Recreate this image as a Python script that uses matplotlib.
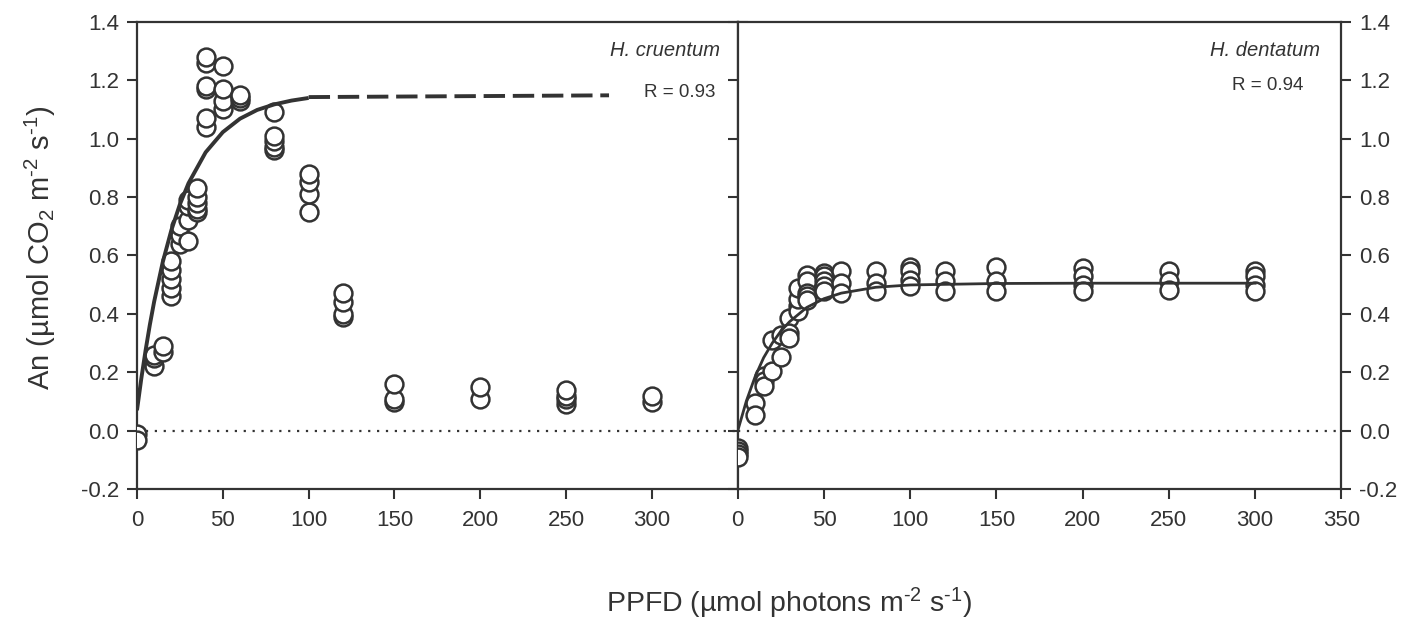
import matplotlib
matplotlib.use("Agg")
import matplotlib.pyplot as plt

plt.rcParams['font.family'] = ['Liberation Sans', 'DejaVu Sans']
plt.rcParams['mathtext.fontset'] = 'custom'
plt.rcParams['mathtext.rm'] = 'Liberation Sans'
plt.rcParams['mathtext.it'] = 'Liberation Sans:italic'

ink = '#333333'

# H. cruentum measurements
hc_x = [0, 0, 10, 10, 10, 15, 15, 20, 20, 20, 20, 20, 25, 25, 25, 30, 30, 30, 30,
        35, 35, 35, 35, 35, 40, 40, 40, 40, 40, 40, 50, 50, 50, 50, 60, 60, 60,
        80, 80, 80, 80, 80, 100, 100, 100, 100, 120, 120, 120, 120,
        150, 150, 150, 200, 200, 250, 250, 250, 250, 300, 300]
hc_y = [-0.01, -0.03, 0.22, 0.25, 0.26, 0.27, 0.29, 0.46, 0.49, 0.52, 0.55, 0.58,
        0.64, 0.67, 0.70, 0.65, 0.72, 0.77, 0.79,
        0.75, 0.76, 0.78, 0.80, 0.83, 1.04, 1.07, 1.17, 1.18, 1.26, 1.28,
        1.10, 1.13, 1.17, 1.25, 1.13, 1.14, 1.15,
        0.96, 0.97, 0.99, 1.01, 1.09, 0.75, 0.81, 0.85, 0.88, 0.39, 0.40, 0.44, 0.47,
        0.10, 0.11, 0.16, 0.11, 0.15, 0.09, 0.11, 0.12, 0.14, 0.10, 0.12]
# fitted curve
hc_fit_x = [0, 2.5, 5, 7.5, 10, 15, 20, 25, 30, 40, 50, 60, 70, 80, 90, 100]
hc_fit_y = [0.07, 0.178, 0.275, 0.363, 0.442, 0.577, 0.686, 0.775, 0.847, 0.953,
            1.022, 1.068, 1.098, 1.117, 1.130, 1.139]
hc_ext_x = [100, 275]
hc_ext_y = [1.142, 1.148]

# H. dentatum measurements
hd_x = [0, 0, 0, 0, 10, 10, 15, 15, 15, 20, 20, 25, 25, 30, 30, 30,
        35, 35, 35, 35, 40, 40, 40, 40, 40, 50, 50, 50, 50, 50, 60, 60, 60,
        80, 80, 80, 100, 100, 100, 100, 120, 120, 120, 150, 150, 150,
        200, 200, 200, 200, 250, 250, 250, 300, 300, 300, 300]
hd_y = [-0.06, -0.07, -0.08, -0.09, 0.095, 0.055, 0.186, 0.169, 0.154, 0.312, 0.203,
        0.329, 0.254, 0.387, 0.336, 0.318,
        0.426, 0.409, 0.45, 0.49, 0.534, 0.511, 0.472, 0.46, 0.449,
        0.541, 0.528, 0.511, 0.494, 0.477, 0.546, 0.506, 0.472,
        0.546, 0.506, 0.477, 0.562, 0.546, 0.517, 0.494, 0.546, 0.511, 0.477,
        0.562, 0.511, 0.477, 0.557, 0.528, 0.50, 0.477, 0.546, 0.511, 0.483,
        0.546, 0.528, 0.50, 0.477]
hd_fit_x = [0, 5, 10, 15, 20, 25, 30, 40, 50, 60, 80, 100, 150, 200, 300]
hd_fit_y = [0.0, 0.102, 0.184, 0.25, 0.30, 0.341, 0.373, 0.422, 0.452, 0.471,
            0.491, 0.499, 0.504, 0.505, 0.505]

yticks = [-0.2, 0.0, 0.2, 0.4, 0.6, 0.8, 1.0, 1.2, 1.4]

fig = plt.figure(figsize=(14.27, 6.2), dpi=100)
ax1 = fig.add_axes([0.096, 0.211, 0.421, 0.754])
ax2 = fig.add_axes([0.517, 0.211, 0.423, 0.754])

for ax in (ax1, ax2):
    ax.set_xlim(0, 350)
    ax.set_ylim(-0.2, 1.4)
    for s in ax.spines.values():
        s.set_linewidth(1.6)
        s.set_color(ink)
    ax.axhline(0, color=ink, linestyle=(0, (1, 3)), linewidth=1.6, zorder=1)
    ax.tick_params(direction='out', length=7, width=1.5, colors=ink,
                   labelsize=16, left=True, right=True, top=False)
    ax.tick_params(axis='y', pad=6)
    ax.tick_params(axis='x', pad=8)
    ax.set_yticks(yticks)
    ax.set_yticklabels(['%.1f' % v for v in yticks])

ax1.set_xticks([0, 50, 100, 150, 200, 250, 300])
ax2.set_xticks([0, 50, 100, 150, 200, 250, 300, 350])
ax1.tick_params(labelleft=True, labelright=False)
ax2.tick_params(labelleft=False, labelright=True)

mk = dict(marker='o', s=165, facecolor='white', edgecolor=ink, linewidth=1.8, zorder=3)
ax1.scatter(hc_x, hc_y, **mk)
ax2.scatter(hd_x, hd_y, **mk)

ax1.plot(hc_fit_x, hc_fit_y, color=ink, linewidth=2.8, zorder=4, solid_capstyle='butt')
ax1.plot(hc_ext_x, hc_ext_y, color=ink, linewidth=2.8, linestyle=(0, (5.5, 2.0)), zorder=4)
ax2.plot(hd_fit_x, hd_fit_y, color=ink, linewidth=2.0, zorder=4)

ax1.text(0.97, 0.938, 'H. cruentum', transform=ax1.transAxes, ha='right', va='center',
         fontsize=14.5, style='italic', color=ink)
ax1.text(0.963, 0.848, 'R = 0.93', transform=ax1.transAxes, ha='right', va='center',
         fontsize=13.5, color=ink)
ax2.text(0.965, 0.938, 'H. dentatum', transform=ax2.transAxes, ha='right', va='center',
         fontsize=14.5, style='italic', color=ink)
ax2.text(0.937, 0.863, 'R = 0.94', transform=ax2.transAxes, ha='right', va='center',
         fontsize=13.5, color=ink)

fig.text(0.028, 0.601, 'An (µmol CO$_2$ m$^{\u20102}$ s$^{\u20101}$)', rotation=90,
         ha='center', va='center', fontsize=21, color=ink)
fig.text(0.553, 0.026, 'PPFD (µmol photons m$^{\u20102}$ s$^{\u20101}$)',
         ha='center', va='center', fontsize=20.5, color=ink)

fig.savefig('out.png', dpi=100)
